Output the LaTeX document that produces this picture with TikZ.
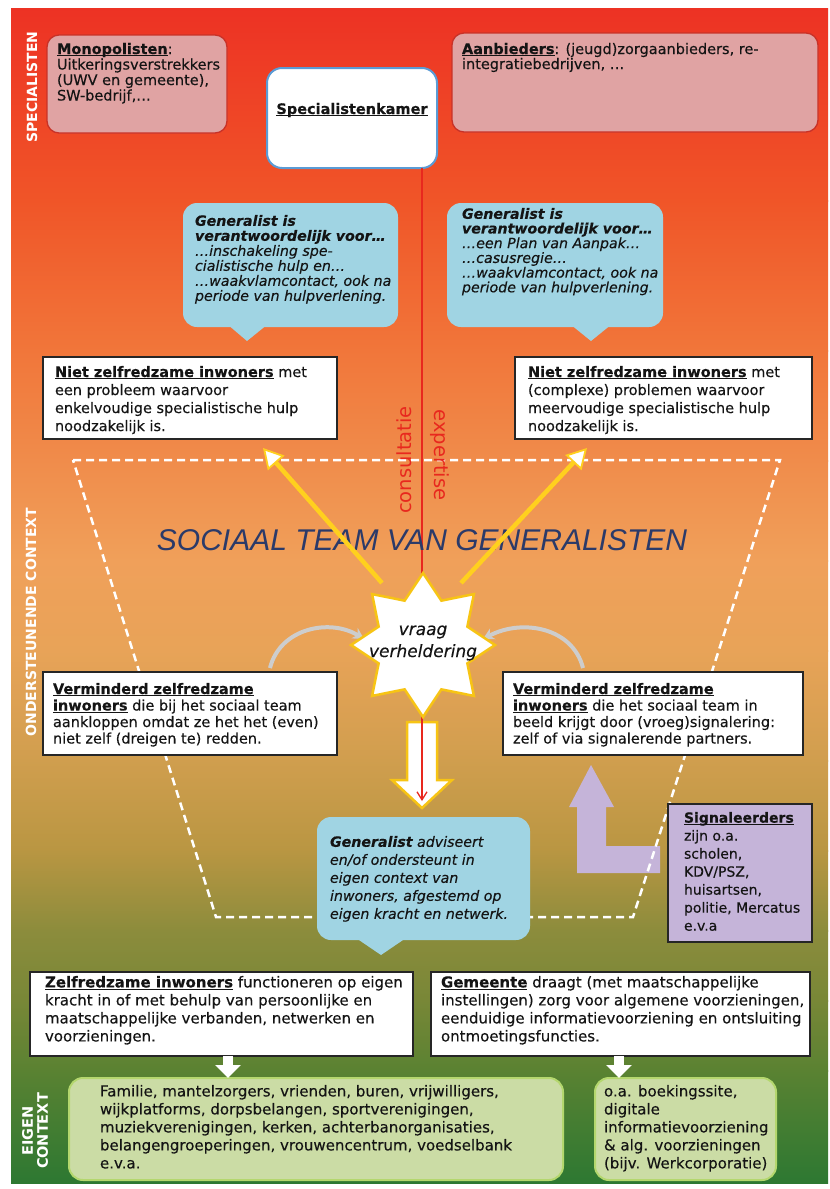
\documentclass[tikz,border=0pt]{standalone}
\usepackage{fontspec}
\setmainfont{DejaVu Sans}
\newfontfamily\titlefont{Liberation Sans}
\usetikzlibrary{arrows.meta}
\definecolor{g0}{RGB}{237,50,36}
\definecolor{g1}{RGB}{240,85,40}
\definecolor{g2}{RGB}{241,118,58}
\definecolor{g3}{RGB}{240,140,75}
\definecolor{g4}{RGB}{240,160,90}
\definecolor{g5}{RGB}{232,163,88}
\definecolor{g6}{RGB}{208,158,78}
\definecolor{g7}{RGB}{185,150,66}
\definecolor{g8}{RGB}{140,140,60}
\definecolor{g9}{RGB}{120,135,55}
\definecolor{g10}{RGB}{90,130,50}
\definecolor{g11}{RGB}{45,120,50}
\definecolor{pinkfill}{RGB}{224,163,163}
\definecolor{pinkline}{RGB}{200,50,40}
\definecolor{specline}{RGB}{91,155,213}
\definecolor{bubble}{RGB}{160,212,227}
\definecolor{lav}{RGB}{197,180,217}
\definecolor{greenfill}{RGB}{203,220,165}
\definecolor{greenline}{RGB}{180,215,110}
\definecolor{ylw}{RGB}{255,208,30}
\definecolor{staryl}{RGB}{247,196,20}
\definecolor{redline}{RGB}{232,40,30}
\definecolor{navy}{RGB}{43,58,105}
\definecolor{ink}{RGB}{20,20,20}
\definecolor{arcgray}{RGB}{205,205,205}
\newlength\ulw
\newcommand{\ulb}[1]{\settowidth{\ulw}{\textbf{#1}}\textbf{#1}\hspace{-\ulw}\rule[-2.2pt]{\ulw}{1.1pt}}
\newcommand{\bodyfont}[2]{\addfontfeature{FakeBold=0.3}\fontsize{#1}{#2}\selectfont}
\begin{document}
\begin{tikzpicture}[x=1pt,y=-1pt,
  txt/.style={anchor=north west, inner sep=0pt, outer sep=0pt, align=left, text=ink, font=\bodyfont{14.5}{18}},
  boxwh/.style 2 args={minimum width=#1, minimum height=#2, anchor=north west, inner sep=0pt, outer sep=0pt},
  pinkbox/.style={draw=pinkline, fill=pinkfill, line width=1.3pt, rounded corners=12pt},
  specbox/.style={draw=specline, fill=white, line width=2pt, rounded corners=15pt},
  bubblebox/.style={fill=bubble, rounded corners=14pt},
  whitebox/.style={draw=black!85, fill=white, line width=1.6pt},
  lavbox/.style={draw=black!85, fill=lav, line width=1.6pt},
  greenbox/.style={draw=greenline, fill=greenfill, line width=2pt, rounded corners=14pt},
  sidelab/.style={text=white, font=\bfseries\fontsize{14}{15}\selectfont, inner sep=0pt},
  yarrow/.style={draw=ylw, line width=4.5pt, -{Triangle[length=20pt,width=22pt,fill=white,line width=1.8pt]}},
  grayarc/.style={draw=arcgray, line width=4pt, -{Stealth[length=11pt,width=12pt]}},
  redarrow/.style={draw=redline, line width=1.3pt, -{Straight Barb[length=8pt,width=10pt]}},
  dashtrap/.style={draw=white, line width=2.5pt, dash pattern=on 8pt off 5pt},
  whitearrow/.style={draw=white, line width=10pt, -{Triangle[length=13pt,width=25pt]}},
  redlab/.style={text=redline, font=\fontsize{19.5}{20}\selectfont, inner sep=0pt},
  big/.style={font=\bodyfont{15}{18}},
]
% background
\fill[white] (0,0) rectangle (830,1189);
\shade[top color=g0,bottom color=g1] (11,8) rectangle (828,201);
\shade[top color=g1,bottom color=g2] (11,200) rectangle (828,351);
\shade[top color=g2,bottom color=g3] (11,350) rectangle (828,461);
\shade[top color=g3,bottom color=g4] (11,460) rectangle (828,561);
\shade[top color=g4,bottom color=g5] (11,560) rectangle (828,651);
\shade[top color=g5,bottom color=g6] (11,650) rectangle (828,761);
\shade[top color=g6,bottom color=g7] (11,760) rectangle (828,851);
\shade[top color=g7,bottom color=g8] (11,850) rectangle (828,931);
\shade[top color=g8,bottom color=g9] (11,930) rectangle (828,1001);
\shade[top color=g9,bottom color=g10] (11,1000) rectangle (828,1071);
\shade[top color=g10,bottom color=g11] (11,1070) rectangle (828,1183);

% side labels
\node[sidelab, rotate=90] (lspec) at (32,87) {SPECIALISTEN};
\node[sidelab, rotate=90] (lond) at (31,622) {ONDERSTEUNENDE CONTEXT};
\node[sidelab, rotate=90, align=center, font=\bfseries\fontsize{14.5}{15}\selectfont] (leig) at (35,1131) {EIGEN\\CONTEXT};

% purple L arrow
\fill[lav] (591,765) -- (614,807) -- (606,807) -- (606,846) -- (660,846) -- (660,873) -- (577,873) -- (577,807) -- (569,807) -- cycle;

% dashed trapezoid
\draw[dashtrap] (73,460) -- (780,460) -- (633,917) -- (216,917) -- cycle;

% top boxes
\node[boxwh={180pt}{98pt}, pinkbox] (mono) at (47,35) {};
\node[txt, font=\bodyfont{14.5}{15.5}] (tmono) at (57,43) {\ulb{Monopolisten}:\\Uitkeringsverstrekkers\\(UWV en gemeente),\\SW-bedrijf,…};
\node[boxwh={366pt}{99pt}, pinkbox] (aanb) at (452,33) {};
\node[txt, font=\bodyfont{14.5}{15}] (taanb) at (462,43) {\ulb{Aanbieders}: (jeugd)zorgaanbieders, re-\\integratiebedrijven, …};
\node[boxwh={170pt}{100pt}, specbox] (spec) at (267,68) {};
\node[font=\bodyfont{14.5}{18}, inner sep=0pt, text=ink] (tspec) at (352,110) {\ulb{Specialistenkamer}};

% speech bubbles
\node[boxwh={215pt}{124pt}, bubblebox] (bl) at (183,203) {};
\fill[bubble] (227,324) -- (247,341) -- (268,324) -- cycle;
\node[txt, font=\itshape\bodyfont{14.2}{15}] (tbl) at (195,215) {\textbf{Generalist is}\\\textbf{verantwoordelijk voor…}\\…inschakeling spe-\\cialistische hulp en…\\…waakvlamcontact, ook na\\periode van hulpverlening.};
\node[boxwh={216pt}{124pt}, bubblebox] (br) at (447,203) {};
\fill[bubble] (570,324) -- (591,341) -- (612,324) -- cycle;
\node[txt, font=\itshape\bodyfont{14.2}{14.7}] (tbr) at (462,208) {\textbf{Generalist is}\\\textbf{verantwoordelijk voor…}\\…een Plan van Aanpak…\\…casusregie…\\…waakvlamcontact, ook na\\periode van hulpverlening.};

% niet zelfredzame boxes
\node[boxwh={294pt}{82pt}, whitebox] (nl) at (43,357) {};
\node[txt] (tnl) at (55,366) {\ulb{Niet zelfredzame inwoners} met\\een probleem waarvoor\\enkelvoudige specialistische hulp\\noodzakelijk is.};
\node[boxwh={297pt}{82pt}, whitebox] (nr) at (515,357) {};
\node[txt] (tnr) at (528,366) {\ulb{Niet zelfredzame inwoners} met\\(complexe) problemen waarvoor\\meervoudige specialistische hulp\\noodzakelijk is.};

% big white down arrow
\filldraw[fill=white, draw=staryl, line width=2.5pt, line join=miter] (407,722) -- (437,722) -- (437,780) -- (452,780) -- (422,808) -- (392,780) -- (407,780) -- cycle;

% red line
\coordinate (redend) at (422,801);
\draw[redarrow] (spec.south -| redend) -- (redend);
\node[redlab, rotate=90] (cons) at (404,460) {consultatie};
\node[redlab, rotate=-90] (expt) at (440,455) {expertise};

% title
\node[font=\titlefont\itshape\fontsize{30}{32}\selectfont, text=navy, inner sep=0pt] (title) at (422,540) {SOCIAAL TEAM VAN GENERALISTEN};

% yellow arrows
\coordinate (yl0) at (382,583); \coordinate (yl1) at (263,448);
\coordinate (yr0) at (461,583); \coordinate (yr1) at (587,448);
\draw[yarrow] (yl0) -- (yl1);
\draw[yarrow] (yr0) -- (yr1);

% grey arcs
\coordinate (ga0) at (270,668); \coordinate (ga1) at (364,639);
\draw[grayarc] (ga0) .. controls (280,628) and (330,618) .. (ga1);
\coordinate (gb0) at (583,668); \coordinate (gb1) at (483,639);
\draw[grayarc] (gb0) .. controls (573,628) and (523,618) .. (gb1);

% star
\draw[fill=white, draw=staryl, line width=2.5pt, shift={(423,645)}] (90:72) \foreach \i in {1,...,15}{ -- ({90+22.5*\i}:{ifthenelse(mod(\i,2)==1,48,72)}) } -- cycle;
\node[font=\itshape\bodyfont{17}{22}, align=center, text=ink, inner sep=0pt] (star) at (423,643) {vraag\\verheldering};

% verminderd boxes
\node[boxwh={294pt}{83pt}, whitebox] (vl) at (43,672) {};
\node[txt, font=\bodyfont{14.5}{16.5}] (tvl) at (53,683) {\ulb{Verminderd zelfredzame}\\\ulb{inwoners} die bij het sociaal team\\aankloppen omdat ze het het (even)\\niet zelf (dreigen te) redden.};
\node[boxwh={300pt}{83pt}, whitebox] (vr) at (503,672) {};
\node[txt, font=\bodyfont{14.5}{16.5}] (tvr) at (513,683) {\ulb{Verminderd zelfredzame}\\\ulb{inwoners} die het sociaal team in\\beeld krijgt door (vroeg)signalering:\\zelf of via signalerende partners.};

% bottom bubble
\node[boxwh={213pt}{123pt}, bubblebox] (bb) at (317,817) {};
\fill[bubble] (356,938) -- (381,955) -- (406,938) -- cycle;
\node[txt, font=\itshape\bodyfont{14.2}{18}] (tbb) at (330,836) {\textbf{Generalist} adviseert\\en/of ondersteunt in\\eigen context van\\inwoners, afgestemd op\\eigen kracht en netwerk.};

% signaleerders
\node[boxwh={144pt}{138pt}, lavbox] (sig) at (668,804) {};
\node[txt, font=\bodyfont{14}{18}] (tsig) at (684,812) {\ulb{Signaleerders}\\zijn o.a.\\scholen,\\KDV/PSZ,\\huisartsen,\\politie, Mercatus\\e.v.a};

% bottom white boxes
\node[boxwh={383pt}{84pt}, whitebox] (zl) at (30,972) {};
\node[txt, big] (tzl) at (45,976) {\ulb{Zelfredzame inwoners} functioneren op eigen\\kracht in of met behulp van persoonlijke en\\maatschappelijke verbanden, netwerken en\\voorzieningen.};
\node[boxwh={379pt}{84pt}, whitebox] (zr) at (431,972) {};
\node[txt, big] (tzr) at (441,976) {\ulb{Gemeente} draagt (met maatschappelijke\\instellingen) zorg voor algemene voorzieningen,\\eenduidige informatievoorziening en ontsluiting\\ontmoetingsfuncties.};

% green boxes
\node[boxwh={494pt}{102pt}, greenbox] (gl) at (69,1078) {};
\node[txt, big] (tgl) at (100,1085) {Familie, mantelzorgers, vrienden, buren, vrijwilligers,\\wijkplatforms, dorpsbelangen, sportverenigingen,\\muziekverenigingen, kerken, achterbanorganisaties,\\belangengroeperingen, vrouwencentrum, voedselbank\\e.v.a.};
\node[boxwh={181pt}{102pt}, greenbox] (gr) at (595,1078) {};
\node[txt, big] (tgr) at (604,1085) {o.a. boekingssite,\\digitale\\informatievoorziening\\\& alg. voorzieningen\\(bijv. Werkcorporatie)};

% small white arrows
\coordinate (ca) at (228,0); \coordinate (cb) at (619,0);
\draw[whitearrow] (zl.south -| ca) -- (gl.north -| ca);
\draw[whitearrow] (zr.south -| cb) -- (gr.north -| cb);
\end{tikzpicture}
\end{document}
